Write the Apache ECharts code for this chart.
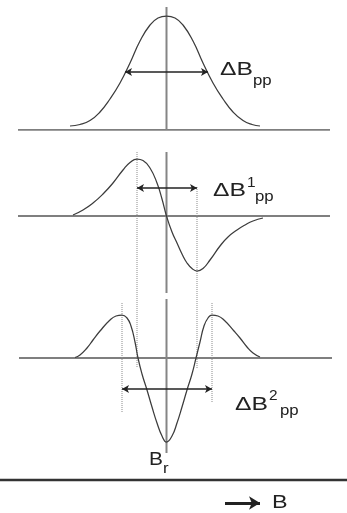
<!DOCTYPE html>
<html>
<head>
<meta charset="utf-8">
<script src="https://cdn.jsdelivr.net/npm/echarts@6/dist/echarts.min.js"></script>
<style>
  html, body { margin: 0; padding: 0; background: #fff; }
  #chart { width: 347px; height: 513px; }
</style>
</head>
<body>
<div id="chart"></div>
<script>
// Magnetic field offset from resonance (B - Br) and line-shape amplitudes
const fieldTop = [-9.65, -8.65, -7.65, -6.65, -5.65, -4.65, -3.65, -2.65, -1.65, -0.85, 0, 0.85, 1.65, 2.65, 3.65, 4.65, 5.65, 6.65, 7.65, 8.55, 9.35];
const absorption = [0.4, 0.55, 0.95, 1.8, 3.1, 4.7, 6.7, 8.9, 10.5, 11.2, 11.4, 11.2, 10.5, 8.9, 6.7, 4.7, 3.1, 1.8, 0.95, 0.55, 0.4];

const fieldMid = [-9.35, -8.35, -7.35, -6.35, -5.35, -4.35, -3.65, -2.95, -2.35, -1.65, -0.95, -0.45, 0, 0.55, 1.05, 1.55, 2.05, 2.55, 3.05, 3.65, 4.35, 5.35, 6.15, 7.05, 7.85, 8.65, 9.65];
const firstDerivative = [0.1, 0.6, 1.3, 2.2, 3.3, 4.6, 5.35, 5.7, 5.55, 4.8, 3.3, 1.7, 0, -1.6, -2.7, -3.8, -4.7, -5.25, -5.5, -5.25, -4.4, -3.0, -2.1, -1.4, -0.9, -0.5, -0.2];

const fieldBot = [-9.15, -8.65, -7.95, -7.35, -6.65, -5.65, -5.05, -4.45, -3.95, -3.55, -3.15, -2.85, -2.45, -1.95, -1.45, -0.95, -0.45, 0, 0.55, 1.05, 1.55, 2.05, 2.55, 2.95, 3.35, 3.75, 4.15, 4.55, 5.15, 5.75, 6.75, 7.35, 8.05, 8.65, 9.35];
const secondDerivative = [0.05, 0.3, 1.0, 1.8, 2.7, 3.8, 4.2, 4.3, 4.0, 3.2, 1.6, 0, -1.6, -3.2, -4.9, -6.5, -7.8, -8.4, -7.8, -6.5, -4.9, -3.2, -1.6, 0, 1.6, 3.2, 4.0, 4.3, 4.2, 3.8, 2.7, 2.0, 1.1, 0.5, 0.1];

// Characteristic fields
const resonanceField = 0;                  // Br
const halfWidthFields = [-4.15, 4.15];     // ΔBpp
const ppFieldsFirst = [-2.95, 3.05];       // ΔB¹pp
const ppFieldsSecond = [-4.45, 4.55];      // ΔB²pp
const widthLevels = [5.8, 2.8, -3.1];      // heights of the width arrows

const zip = (xs, ys) => xs.map((x, i) => [x, ys[i]]);

const FONT = '"Liberation Sans", Arial, sans-serif';
const CURVE = { color: '#3c3c3c', width: 1.25 };
const BASE = { color: '#555', width: 1.5 };
const CENTER = { color: '#858585', width: 2 };
const DOTTED = { color: '#8a8a8a', width: 1, type: 'dotted' };

function seg(g, data, style, extra) {
  return Object.assign({
    type: 'line', xAxisIndex: g, yAxisIndex: g, data: data,
    symbol: 'none', silent: true, lineStyle: style, z: 2
  }, extra || {});
}

function widthArrow(fields, level) {
  return {
    silent: true, symbol: ['arrow', 'arrow'], symbolSize: [6, 7],
    label: { show: false },
    lineStyle: { color: '#222', width: 1.5, type: 'solid' },
    data: [[{ coord: [fields[0], level] }, { coord: [fields[1], level] }]]
  };
}

const xAxisBase = { type: 'value', min: -16.65, max: 18.05, show: false };

const chart = echarts.init(document.getElementById('chart'), null, { renderer: 'canvas' });

chart.setOption({
  animation: false,
  backgroundColor: '#fff',
  grid: [
    { left: 0, right: 0, top: 4, height: 126 },
    { left: 0, right: 0, top: 146, height: 224 },
    { left: 0, right: 0, top: 298, height: 215 }
  ],
  xAxis: [
    Object.assign({ gridIndex: 0 }, xAxisBase),
    Object.assign({ gridIndex: 1 }, xAxisBase),
    Object.assign({ gridIndex: 2 }, xAxisBase)
  ],
  yAxis: [
    { gridIndex: 0, type: 'value', min: 0, max: 12.6, show: false },
    { gridIndex: 1, type: 'value', min: -15.4, max: 7.0, show: false },
    { gridIndex: 2, type: 'value', min: -15.5, max: 6.0, show: false }
  ],
  series: [
    // absorption line
    seg(0, [[-14.85, 0], [16.35, 0]], BASE, { markLine: widthArrow(halfWidthFields, widthLevels[0]) }),
    seg(0, [[resonanceField, 12.3], [resonanceField, 0]], CENTER),
    seg(0, zip(fieldTop, absorption), CURVE, { smooth: 0.5, z: 3 }),

    // first derivative
    seg(1, [[-14.85, 0], [16.35, 0]], BASE, { markLine: widthArrow(ppFieldsFirst, widthLevels[1]) }),
    seg(1, [[resonanceField, 6.4], [resonanceField, -7.7]], CENTER),
    seg(1, [[ppFieldsFirst[0], 6.4], [ppFieldsFirst[0], -15.1]], DOTTED),
    seg(1, [[ppFieldsFirst[1], 2.9], [ppFieldsFirst[1], -15.2]], DOTTED),
    seg(1, zip(fieldMid, firstDerivative), CURVE, { smooth: 0.5, z: 3 }),

    // second derivative
    seg(2, [[-14.75, 0], [16.55, 0]], BASE, { markLine: widthArrow(ppFieldsSecond, widthLevels[2]) }),
    seg(2, [[resonanceField, 5.9], [resonanceField, -9.5]], CENTER),
    seg(2, [[ppFieldsSecond[0], 5.5], [ppFieldsSecond[0], -5.5]], DOTTED),
    seg(2, [[ppFieldsSecond[1], 5.5], [ppFieldsSecond[1], -4.5]], DOTTED),
    seg(2, zip(fieldBot, secondDerivative), CURVE, { smooth: 0.5, z: 3 }),

    // field axis with direction arrow
    seg(2, [[-16.65, -12.2], [18.05, -12.2]], { color: '#333', width: 2.5 }, {
      markLine: {
        silent: true, symbol: ['none', 'arrow'], symbolSize: [10, 11],
        label: { show: false },
        lineStyle: { color: '#222', width: 3, type: 'solid' },
        data: [[{ coord: [5.85, -14.5] }, { coord: [9.35, -14.5] }]]
      }
    })
  ]
});

// Text annotations, anchored in field/amplitude units of each panel
const annotations = [
  { g: 0, at: [5.35, 6.0], text: 'ΔB', size: 19, sx: 1.3 },
  { g: 0, at: [8.65, 4.9], text: 'pp', size: 14, sx: 1.2 },

  { g: 1, at: [4.65, 2.55], text: 'ΔB', size: 19, sx: 1.3 },
  { g: 1, at: [8.05, 3.3], text: '1', size: 14, sx: 1.1 },
  { g: 1, at: [8.85, 1.9], text: 'pp', size: 14, sx: 1.2 },

  { g: 2, at: [6.85, -4.7], text: 'ΔB', size: 19, sx: 1.3 },
  { g: 2, at: [10.25, -3.8], text: '2', size: 14, sx: 1.1 },
  { g: 2, at: [11.35, -5.3], text: 'pp', size: 14, sx: 1.2 },

  { g: 2, at: [-1.75, -10.2], text: 'B', size: 19, sx: 1.1 },
  { g: 2, at: [-0.35, -11.1], text: 'r', size: 14, sx: 1.2 },

  { g: 2, at: [10.55, -14.5], text: 'B', size: 18, sx: 1.3 }
];

chart.setOption({
  graphic: annotations.map(a => {
    const p = chart.convertToPixel({ xAxisIndex: a.g, yAxisIndex: a.g }, a.at);
    return {
      type: 'text', x: p[0], y: p[1], scaleX: a.sx, silent: true, z: 10,
      style: {
        text: a.text, font: a.size + 'px ' + FONT, fill: '#222',
        align: 'left', verticalAlign: 'middle'
      }
    };
  })
});
</script>
</body>
</html>
